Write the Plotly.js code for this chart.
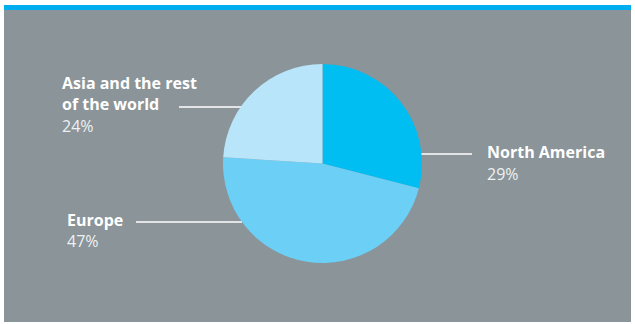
<!DOCTYPE html>
<html>
<head>
<meta charset="utf-8">
<script src="https://cdn.plot.ly/plotly-3.0.1.min.js"></script>
<style>
html,body{margin:0;padding:0;background:#ffffff;}
#chart{width:635px;height:324px;}
</style>
</head>
<body>
<div id="chart"></div>
<script>
// ---- data ----
const regions = ["North America", "Europe", "Asia and the rest of the world"];
const regionLabels = ["North America", "Europe", "Asia and the rest<br>of the world"];
const shares = [29, 47, 24];
const sliceColors = ["#00BEF2", "#6BCFF6", "#B8E5FA"];

// ---- layout helpers (pixel -> paper) ----
const W = 635, H = 324;
const px = x => x / W;
const py = y => 1 - y / H;

// label placement (layout only)
const labelPos = [
  {x: 485, yName: 152, yPct: 174, line: [420, 472, 154]},
  {x: 65,  yName: 220, yPct: 241, line: [136, 242, 222]},
  {x: 60,  yName: 94,  yPct: 126, line: [179, 242, 107]}
];

const trace = {
  type: "pie",
  labels: regions,
  values: shares,
  sort: false,
  direction: "clockwise",
  rotation: 0,
  marker: {colors: sliceColors, line: {width: 0}},
  textinfo: "none",
  hoverinfo: "label+percent",
  showlegend: false,
  domain: {x: [px(223), px(422)], y: [py(263), py(64)]}
};

const annotations = [];
const shapes = [
  {type: "rect", xref: "paper", yref: "paper", x0: px(4), x1: px(631), y0: py(322), y1: py(5),
   fillcolor: "#8A9499", line: {width: 0}, layer: "below"},
  {type: "rect", xref: "paper", yref: "paper", x0: px(4), x1: px(631), y0: py(10), y1: py(5),
   fillcolor: "#00AEEF", line: {width: 0}, layer: "below"}
];

regions.forEach((r, i) => {
  const p = labelPos[i];
  annotations.push({
    xref: "paper", yref: "paper", x: px(p.x), y: py(p.yName),
    xanchor: "left", yanchor: "middle", align: "left", showarrow: false,
    text: "<b>" + regionLabels[i] + "</b>",
    font: {family: "Open Sans, sans-serif", size: 16, color: "#ffffff"}
  });
  annotations.push({
    xref: "paper", yref: "paper", x: px(p.x), y: py(p.yPct),
    xanchor: "left", yanchor: "middle", align: "left", showarrow: false,
    text: shares[i] + "%",
    font: {family: "Open Sans, sans-serif", size: 16, color: "#EEF1F3"}
  });
  shapes.push({type: "line", xref: "paper", yref: "paper",
    x0: px(p.line[0]), x1: px(p.line[1]), y0: py(p.line[2]), y1: py(p.line[2]),
    line: {color: "#ffffff", width: 1.5}, layer: "below"});
});

const layout = {
  width: W, height: H,
  margin: {l: 0, r: 0, t: 0, b: 0},
  paper_bgcolor: "#ffffff",
  showlegend: false,
  shapes: shapes,
  annotations: annotations
};

Plotly.newPlot("chart", [trace], layout, {displayModeBar: false, staticPlot: true});
</script>
</body>
</html>
